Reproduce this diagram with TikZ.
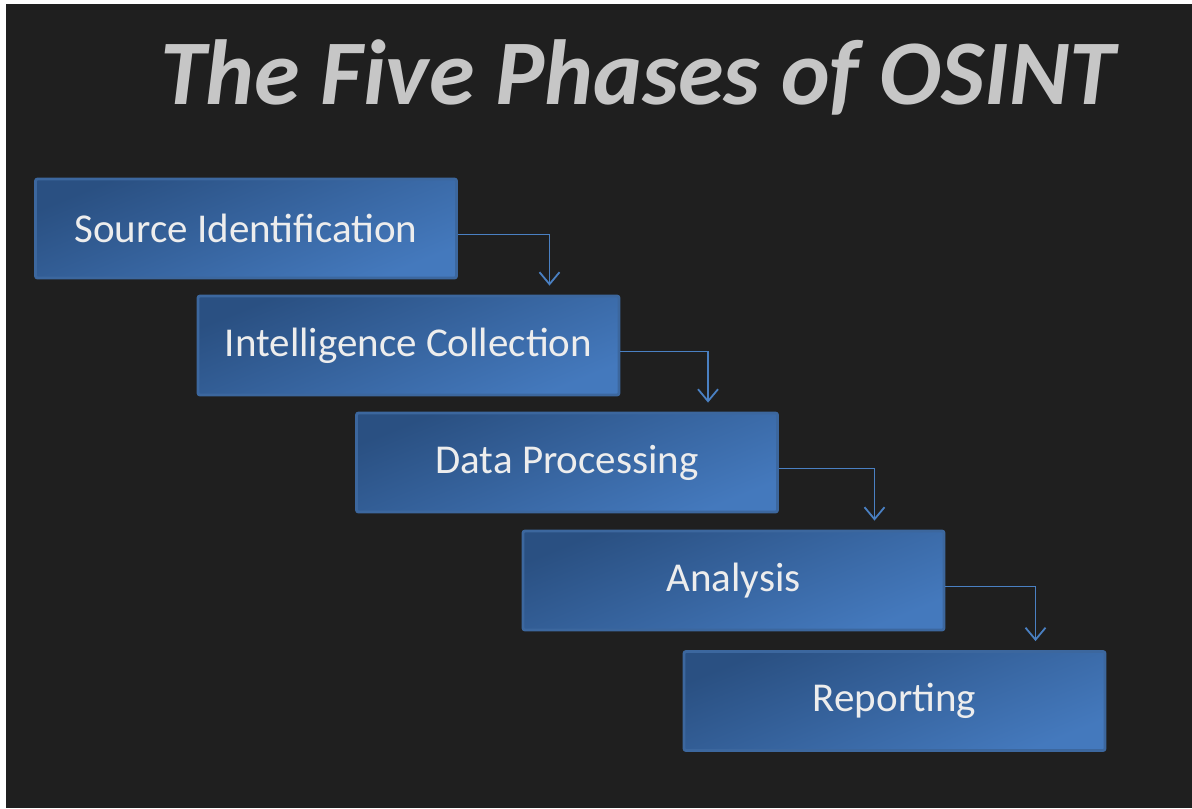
\documentclass[tikz,border=0pt]{standalone}
\usepackage{fontspec}
\setmainfont{Carlito}
\usetikzlibrary{arrows.meta}
\definecolor{slide}{HTML}{1F1F1F}
\definecolor{boxdark}{HTML}{2A5082}
\definecolor{boxlight}{HTML}{4479BD}
\definecolor{boxedge}{HTML}{3C679E}
\definecolor{flowline}{HTML}{4A80C2}
\definecolor{titlegray}{HTML}{C6C6C6}
\definecolor{phasetext}{HTML}{EDEDED}
\begin{document}
\begin{tikzpicture}[x=0.5pt,y=-0.5pt,
    phase/.style={rectangle,draw=boxedge,line width=1.4pt,rounded corners=1pt,
      top color=boxdark,bottom color=boxlight,shading angle=22,
      minimum width=210.5pt,minimum height=49.5pt,text=phasetext,
      font=\fontsize{20.5}{24}\selectfont},
    flow/.style={draw=flowline,line width=0.9pt,-{Straight Barb[length=6pt,width=10pt,line width=0.9pt]}}]
  \useasboundingbox (0,0) rectangle (1192,808);
  \fill[white] (0,0) rectangle (1192,808);
  \fill[slide] (6,4) rectangle (1192,808);

  \path (638,77) node[text=titlegray,font=\fontsize{46.2}{56}\bfseries\itshape\selectfont] (title) {The Five Phases of OSINT};

  \path (246,228.5) node[phase] (src) {\raisebox{-1.5pt}{Source Identification}};
  \path (408.5,345.5) node[phase] (coll) {\raisebox{-1.5pt}{Intelligence Collection}};
  \path (567,462.5) node[phase] (proc) {\raisebox{-1.5pt}{Data Processing}};
  \path (733.5,580.5) node[phase] (anal) {\raisebox{-1.5pt}{Analysis}};
  \path (894.5,701) node[phase] (rep) {\raisebox{-1.5pt}{Reporting}};

  \draw[flow] ([yshift=-3pt]src.east) -| ([xshift=70.5pt,yshift=4.5pt]coll.north);
  \draw[flow] ([yshift=-3pt]coll.east) -| ([xshift=70.5pt,yshift=4.5pt]proc.north);
  \draw[flow] ([yshift=-3pt]proc.east) -| ([xshift=70.5pt,yshift=4.5pt]anal.north);
  \draw[flow] ([yshift=-3pt]anal.east) -| ([xshift=70.5pt,yshift=4.5pt]rep.north);
\end{tikzpicture}
\end{document}
